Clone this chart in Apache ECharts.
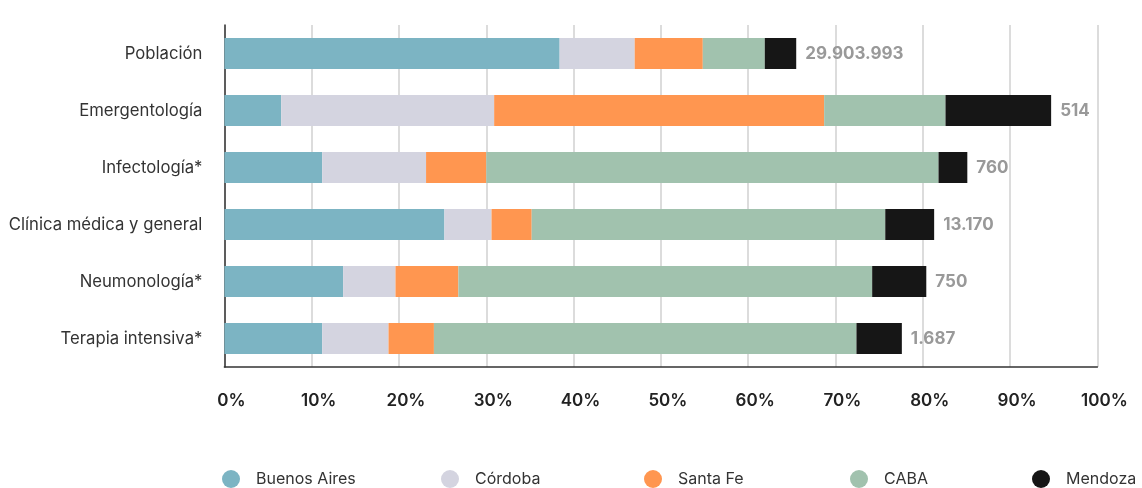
<!DOCTYPE html>
<html>
<head>
<meta charset="utf-8">
<script src="https://cdn.jsdelivr.net/npm/echarts@6/dist/echarts.min.js"></script>
<style>
html,body{margin:0;padding:0;background:#fff;}
#chart{width:1142px;height:488px;}
</style>
</head>
<body>
<div id="chart"></div>
<script>
// Categories (top to bottom)
const categories = ["Población", "Emergentología", "Infectología*", "Clínica médica y general", "Neumonología*", "Terapia intensiva*"];
// Series names
const seriesNames = ["Buenos Aires", "Córdoba", "Santa Fe", "CABA", "Mendoza"];
// Percent shares per category
const buenosAires = [38.4, 6.5, 11.2, 25.2, 13.6, 11.2];
const cordoba     = [8.6, 24.4, 11.9, 5.4, 6.0, 7.6];
const santaFe     = [7.8, 37.8, 6.9, 4.6, 7.2, 5.2];
const caba        = [7.1, 13.9, 51.8, 40.5, 47.4, 48.4];
const mendoza     = [3.6, 12.1, 3.3, 5.6, 6.2, 5.2];
// Totals shown at bar ends
const totals = ["29.903.993", "514", "760", "13.170", "750", "1.687"];
// X tick values
const xTicks = [0, 10, 20, 30, 40, 50, 60, 70, 80, 90, 100];

const colors = ["#7cb4c3", "#d4d4e0", "#ff9650", "#a1c2ae", "#161616"];
const values = [buenosAires, cordoba, santaFe, caba, mendoza];
const font = "Inter, 'Noto Sans', sans-serif";

const chart = echarts.init(document.getElementById('chart'), null, {renderer: 'canvas'});

const series = seriesNames.map((name, i) => ({
  name: name,
  type: 'bar',
  stack: 'total',
  barWidth: 31,
  data: values[i],
  itemStyle: {color: colors[i]},
  emphasis: {disabled: true},
  label: i === seriesNames.length - 1 ? {
    show: true,
    position: 'right',
    distance: 9,
    formatter: p => totals[p.dataIndex],
    color: '#999999',
    fontFamily: font,
    fontWeight: 'bold',
    fontSize: 17
  } : {show: false}
}));

const legendLefts = [222, 441, 644, 850, 1032];
const legends = seriesNames.map((name, i) => ({
  data: [{name: name, icon: 'circle'}],
  left: legendLefts[i],
  top: 470,
  itemWidth: 18,
  itemHeight: 18,
  itemGap: 0,
  padding: 0,
  selectedMode: false,
  textStyle: {fontFamily: font, fontSize: 16, color: '#333333', padding: [0, 0, 0, 11]}
}));

chart.setOption({
  animation: false,
  backgroundColor: '#ffffff',
  color: colors,
  grid: {left: 224.4, right: 44.6, top: 25, bottom: 121, containLabel: false},
  legend: legends,
  xAxis: {
    type: 'value',
    min: xTicks[0],
    max: xTicks[xTicks.length - 1],
    interval: 10,
    axisLine: {show: true, lineStyle: {color: '#333333', width: 1.5}},
    axisTick: {show: false},
    splitLine: {show: true, lineStyle: {color: '#d0d0d0', width: 1.5}},
    axisLabel: {
      formatter: '{value}%',
      fontFamily: font,
      fontSize: 17,
      fontWeight: 600,
      color: '#222222',
      margin: 25,
      padding: [0, 0, 0, 14]
    }
  },
  yAxis: {
    type: 'category',
    inverse: true,
    data: categories,
    axisLine: {show: true, lineStyle: {color: '#333333', width: 1.5}},
    axisTick: {show: false},
    splitLine: {show: false},
    axisLabel: {
      fontFamily: font,
      fontSize: 16.7,
      color: '#333333',
      margin: 22
    }
  },
  series: series
});
</script>
</body>
</html>
